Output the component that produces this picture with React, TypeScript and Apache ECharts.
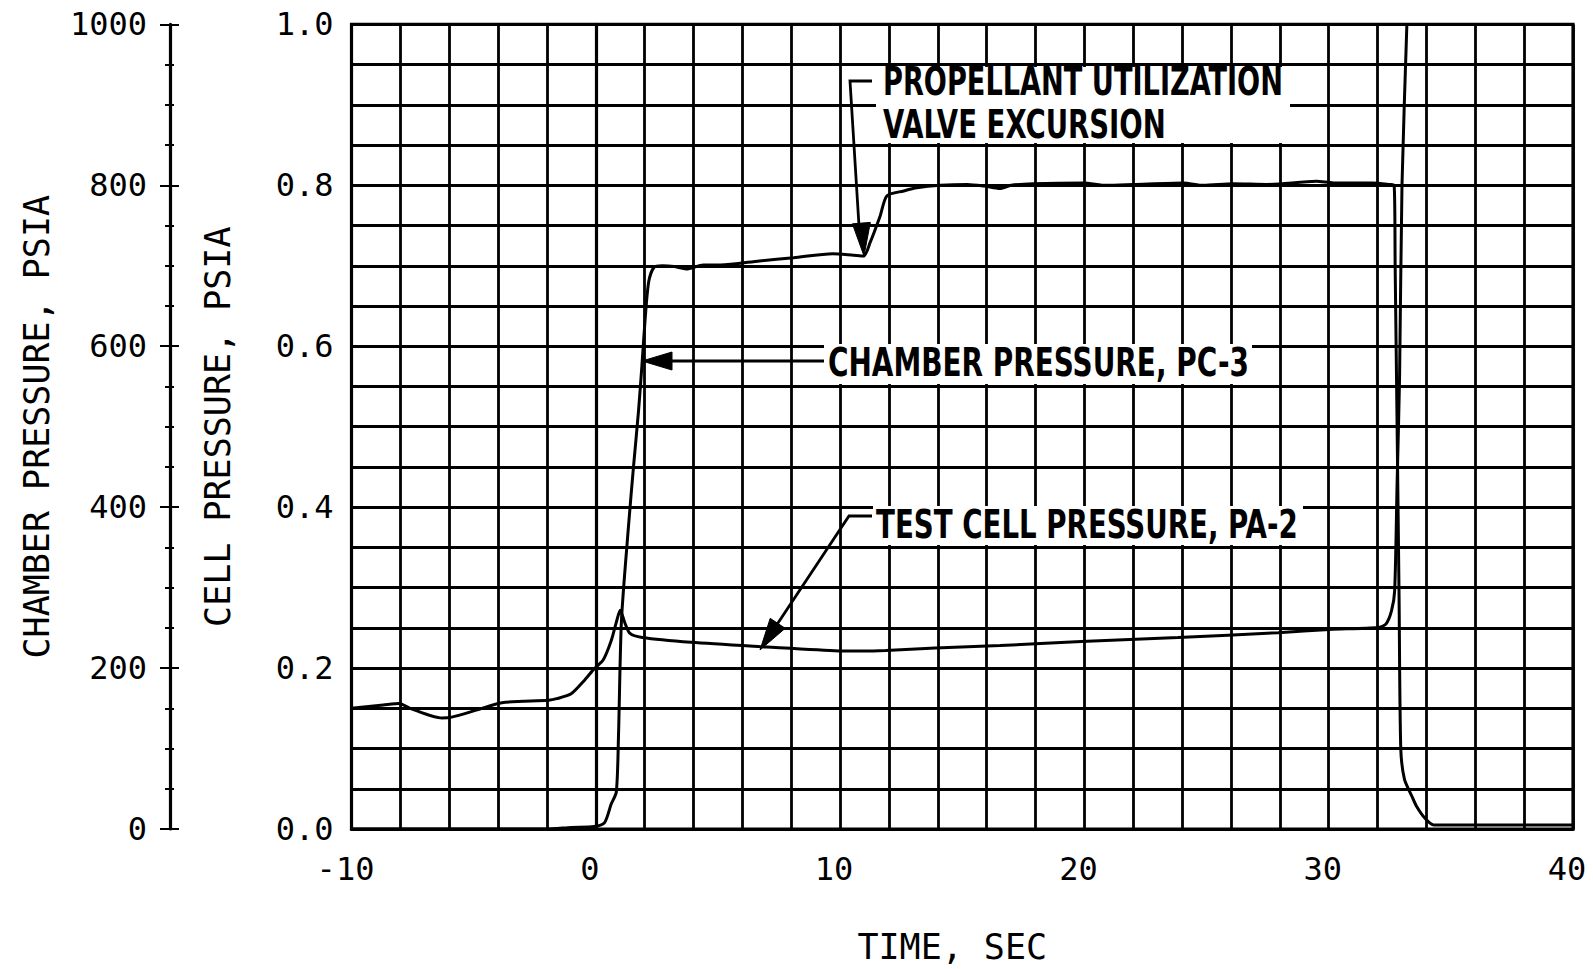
import React, { useEffect, useRef } from 'react';
import * as echarts from 'echarts';

// ---- data ----
const chamberTime = [-10, -2, -1, -0.07, 0.36, 0.63, 0.84, 0.93, 1.05, 1.34, 1.54, 1.75, 1.89, 2.03, 2.17, 2.38, 2.73, 3.2, 3.7, 4.4, 5.1, 6.7, 8.1, 9.7, 10.55, 10.96, 11.23, 11.64, 11.92, 12.6, 13.14, 14.1, 15.2, 15.9, 16.55, 17.0, 17.9, 19.97, 20.9, 22.0, 24.05, 24.87, 26.1, 27.48, 29.5, 30.2, 31.8, 32.5, 32.68, 32.72, 32.8, 32.88, 32.95, 33.1, 33.4, 33.6, 33.95, 34.3, 36, 40];
const chamberPsia = [0, 0, 2, 3, 8, 31, 46, 117, 259, 377, 449, 520, 577, 638, 681, 698, 700, 699, 696, 701, 701, 706, 710, 715, 713, 712, 729, 762, 787, 793, 797, 800, 801, 799, 796, 800, 802, 803, 800, 801, 803, 800, 802, 801, 805, 803, 803, 801, 800, 700, 500, 290, 100, 62, 41, 28, 13, 5, 5, 5];

const cellTime = [-10, -8.7, -8.05, -7.6, -6.3, -5.9, -4.86, -3.84, -1.93, -1.6, -1.01, -0.46, -0.07, 0.3, 0.63, 0.85, 1.0, 1.18, 1.4, 1.9, 3.9, 6.76, 9.77, 11.05, 11.87, 13.9, 16.55, 19.87, 23.83, 27.93, 30.02, 32.02, 32.34, 32.57, 32.7, 32.8, 32.9, 33.0, 33.2, 33.25];
const cellPsia = [0.15, 0.154, 0.156, 0.15, 0.138, 0.139, 0.148, 0.157, 0.16, 0.162, 0.168, 0.185, 0.199, 0.21, 0.234, 0.258, 0.272, 0.257, 0.243, 0.238, 0.232, 0.2266, 0.2216, 0.2212, 0.222, 0.225, 0.228, 0.233, 0.238, 0.244, 0.248, 0.2505, 0.2546, 0.271, 0.296, 0.43, 0.56, 0.8, 1.0, 1.04];

const timeTickValues = [-10, 0, 10, 20, 30, 40];
const timeTickLabels = ['-10', '0', '10', '20', '30', '40'];
const cellTickValues = [0, 0.2, 0.4, 0.6, 0.8, 1.0];
const cellTickLabels = ['0.0', '0.2', '0.4', '0.6', '0.8', '1.0'];
const chamberTickValues = [0, 200, 400, 600, 800, 1000];
const chamberTickLabels = ['0', '200', '400', '600', '800', '1000'];

const annotations = {
  propellant1: 'PROPELLANT UTILIZATION',
  propellant2: 'VALVE EXCURSION',
  chamber: 'CHAMBER PRESSURE, PC-3',
  cell: 'TEST CELL PRESSURE, PA-2',
};

const MONO = "'DejaVu Sans Mono', 'Liberation Mono', monospace";
const ANNO = "'Liberation Sans Narrow', 'DejaVu Sans Condensed', 'DejaVu Sans', sans-serif";
const INK = '#000000';

function lookup(v: number, vals: number[], labels: string[]) {
  for (let i = 0; i < vals.length; i++) {
    if (Math.abs(vals[i] - v) < 1e-6) return labels[i];
  }
  return '';
}

function measure(text: string, font: string) {
  const ctx = document.createElement('canvas').getContext('2d');
  if (!ctx) return text.length * 20;
  ctx.font = font;
  return ctx.measureText(text).width;
}

function annoText(text: string, left: number, midY: number, width: number, size: number) {
  const font = `bold ${size}px ${ANNO}`;
  const w = measure(text, font);
  return {
    type: 'text',
    x: left,
    y: midY,
    scaleX: width / w,
    z: 120,
    style: {
      text,
      font,
      fill: INK,
      align: 'left',
      verticalAlign: 'middle',
      textAlign: 'left',
      textVerticalAlign: 'middle',
    },
  };
}

function arrowHead(tip: [number, number], from: [number, number], len: number, half: number) {
  const dx = tip[0] - from[0];
  const dy = tip[1] - from[1];
  const L = Math.sqrt(dx * dx + dy * dy);
  const ux = dx / L, uy = dy / L;
  const bx = tip[0] - ux * len, by = tip[1] - uy * len;
  const px = -uy * half, py = ux * half;
  return {
    type: 'polygon',
    z: 121,
    shape: { points: [tip, [bx + px, by + py], [bx - px, by - py]] },
    style: { fill: INK, stroke: INK, lineWidth: 1 },
  };
}

function seg(points: number[][]) {
  return {
    type: 'polyline',
    z: 121,
    shape: { points },
    style: { stroke: INK, lineWidth: 2.8, fill: null },
  };
}

function whiteBox(x: number, y: number, w: number, h: number) {
  return { type: 'rect', z: 100, shape: { x, y, width: w, height: h }, style: { fill: '#ffffff' } };
}

export default function App() {
  const ref = useRef<HTMLDivElement>(null);
  useEffect(() => {
    if (!ref.current) return;
    const chart = echarts.init(ref.current, null, { renderer: 'svg' });
    const chamberData = chamberTime.map((t, i) => [t, chamberPsia[i]]);
    const cellData = cellTime.map((t, i) => [t, cellPsia[i]]);

    const axisFont = { fontFamily: MONO, fontSize: 32, color: INK };

    const option: any = {
      animation: false,
      backgroundColor: '#ffffff',
      grid: { left: 351.5, top: 24.4, right: 20, bottom: 136.6, show: true, borderColor: INK, borderWidth: 3.2 },
      xAxis: {
        type: 'value',
        min: -10,
        max: 40,
        interval: 2,
        name: 'TIME, SEC',
        nameLocation: 'middle',
        nameGap: 100,
        nameTextStyle: { fontFamily: MONO, fontSize: 35, color: INK, padding: [0, 20, 0, 0] },
        axisLine: { show: true, lineStyle: { color: INK, width: 3.2 } },
        axisTick: { show: false },
        axisLabel: {
          ...axisFont,
          margin: 24,
          padding: [0, 12, 0, 0],
          formatter: (v: number) => lookup(v, timeTickValues, timeTickLabels),
        },
        splitLine: { show: true, lineStyle: { color: INK, width: 2.8 } },
      },
      yAxis: [
        {
          type: 'value',
          min: 0,
          max: 1,
          interval: 0.05,
          name: 'CELL PRESSURE, PSIA',
          nameLocation: 'middle',
          nameRotate: 90,
          nameGap: 116,
          nameTextStyle: { fontFamily: MONO, fontSize: 35, color: INK },
          axisLine: { show: true, lineStyle: { color: INK, width: 3.2 } },
          axisTick: { show: false },
          axisLabel: {
            ...axisFont,
            margin: 18,
            formatter: (v: number) => lookup(v, cellTickValues, cellTickLabels),
          },
          splitLine: { show: true, lineStyle: { color: INK, width: 2.8 } },
        },
        {
          type: 'value',
          min: 0,
          max: 1000,
          interval: 200,
          position: 'left',
          offset: 181.5,
          name: 'CHAMBER PRESSURE, PSIA',
          nameLocation: 'middle',
          nameRotate: 90,
          nameGap: 116,
          nameTextStyle: { fontFamily: MONO, fontSize: 35, color: INK },
          axisLine: { show: true, lineStyle: { color: INK, width: 3.2 } },
          axisTick: { show: true, length: 10, lineStyle: { color: INK, width: 2 } },
          minorTick: { show: true, splitNumber: 4, length: 5, lineStyle: { color: INK, width: 2 } },
          axisLabel: {
            ...axisFont,
            margin: 23,
            formatter: (v: number) => lookup(v, chamberTickValues, chamberTickLabels),
          },
          splitLine: { show: false },
        },
        {
          type: 'value',
          min: 0,
          max: 1000,
          interval: 200,
          position: 'left',
          offset: 181.5,
          axisLine: { show: false },
          axisTick: { show: true, inside: true, length: 9, lineStyle: { color: INK, width: 2 } },
          minorTick: { show: true, splitNumber: 4, length: 4, lineStyle: { color: INK, width: 2 } },
          axisLabel: { show: false },
          splitLine: { show: false },
        },
      ],
      series: [
        {
          name: 'CHAMBER PRESSURE, PC-3',
          type: 'line',
          yAxisIndex: 1,
          data: chamberData,
          showSymbol: false,
          symbol: 'none',
          smooth: 0.25,
          clip: true,
          lineStyle: { color: INK, width: 3 },
          z: 5,
        },
        {
          name: 'TEST CELL PRESSURE, PA-2',
          type: 'line',
          yAxisIndex: 0,
          data: cellData,
          showSymbol: false,
          symbol: 'none',
          smooth: 0.25,
          clip: true,
          lineStyle: { color: INK, width: 3 },
          z: 5,
        },
      ],
      graphic: [
        whiteBox(876, 67, 414, 76),
        whiteBox(824, 344, 428, 40),
        whiteBox(873, 506, 430, 39),
        annoText(annotations.propellant1, 883, 81.5, 400, 39),
        annoText(annotations.propellant2, 883, 124, 283, 39),
        annoText(annotations.chamber, 828, 362.5, 421, 39),
        annoText(annotations.cell, 876, 524, 422, 39),
        seg([[872, 81], [850, 81], [859, 226]]),
        arrowHead([864, 256], [850, 81], 33, 9),
        seg([[824, 361], [668, 361]]),
        arrowHead([642, 361], [824, 361], 30, 9),
        seg([[872, 516], [849, 516], [776, 626]]),
        arrowHead([760, 650], [849, 516], 32, 9),
      ],
    };
    chart.setOption(option);
    return () => chart.dispose();
  }, []);
  return (
    <div
      ref={ref}
      style={{ position: 'fixed', left: 0, top: 0, width: 1593, height: 969, background: '#ffffff' }}
    />
  );
}
